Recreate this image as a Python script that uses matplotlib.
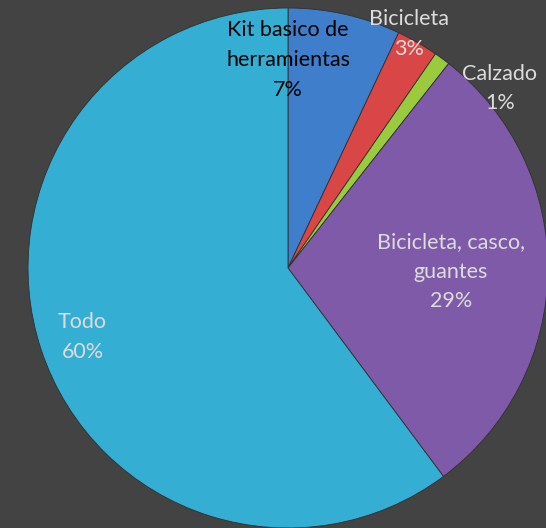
import numpy as np
import matplotlib.pyplot as plt

labels = ['Kit basico de\nherramientas', 'Bicicleta', 'Calzado',
          'Bicicleta, casco,\nguantes', 'Todo']
values = [7.0, 2.6, 1.0, 29.2, 60.2]
colors = ['#3e7ecb', '#d94646', '#9acb3c', '#7f5aa8', '#35aed4']
text_colors = ['black', '#dcdcdc', '#dcdcdc', '#dcdcdc', '#dcdcdc']
# label centres, in units of the pie radius
label_xy = [(0.00, 0.80), (0.465, 0.90), (0.815, 0.69), (0.627, -0.015), (-0.79, -0.265)]

plt.rcParams['font.family'] = ['Lato', 'DejaVu Sans']

fig = plt.figure(figsize=(5.46, 5.28), dpi=100)
fig.patch.set_facecolor('#434343')
ax = fig.add_axes([28 / 546, 0, 520 / 546, 520 / 528])
ax.set_facecolor('none')

wedges, _ = ax.pie(values, colors=colors, startangle=90, counterclock=False,
                   radius=1.0, wedgeprops=dict(edgecolor='#303030', linewidth=0.6))

total = sum(values)
for lab, v, (x, y), c in zip(labels, values, label_xy, text_colors):
    ax.text(x, y, '%s\n%.0f%%' % (lab, v / total * 100), ha='center', va='center',
            color=c, fontsize=15.5, linespacing=1.6)

ax.set_xlim(-1, 1)
ax.set_ylim(-1, 1)
ax.set_aspect('equal')
ax.axis('off')

fig.savefig('out.png', dpi=100, facecolor=fig.get_facecolor())
